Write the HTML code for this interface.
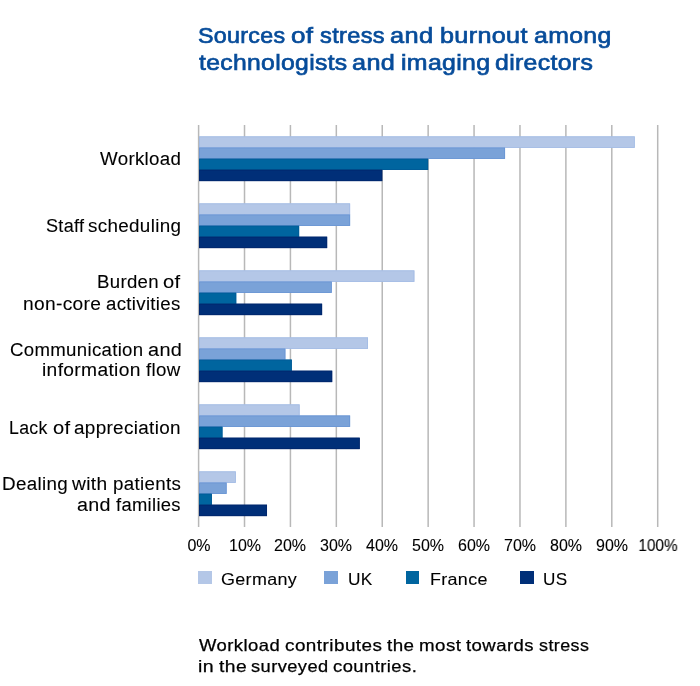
<!DOCTYPE html>
<html><head><meta charset="utf-8"><style>
html,body{margin:0;padding:0;background:#fff;}
body{width:700px;height:686px;position:relative;overflow:hidden;font-family:"Liberation Sans",sans-serif;color:#111;}
.w{position:absolute;white-space:nowrap;will-change:transform;transform-origin:0 0;}
.xl{position:absolute;width:60px;text-align:center;font-size:16px;line-height:16px;will-change:transform;-webkit-text-stroke:0.1px #000;color:#000;}
.sq{position:absolute;width:13.3px;height:13px;}
</style></head><body>
<svg style="position:absolute;left:0;top:0" width="700" height="686" viewBox="0 0 700 686"><rect x="197.85" y="125" width="1.5" height="402" fill="#b8b8b8"/><rect x="243.76" y="125" width="1.5" height="402" fill="#b8b8b8"/><rect x="289.67" y="125" width="1.5" height="402" fill="#b8b8b8"/><rect x="335.58" y="125" width="1.5" height="402" fill="#b8b8b8"/><rect x="381.49" y="125" width="1.5" height="402" fill="#b8b8b8"/><rect x="427.40" y="125" width="1.5" height="402" fill="#b8b8b8"/><rect x="473.31" y="125" width="1.5" height="402" fill="#b8b8b8"/><rect x="519.22" y="125" width="1.5" height="402" fill="#b8b8b8"/><rect x="565.13" y="125" width="1.5" height="402" fill="#b8b8b8"/><rect x="611.04" y="125" width="1.5" height="402" fill="#b8b8b8"/><rect x="656.95" y="125" width="1.5" height="402" fill="#b8b8b8"/><rect x="199.00" y="136.40" width="435.75" height="11.40" fill="#b4c7e7"/><rect x="199.00" y="147.50" width="306.05" height="11.40" fill="#7aa2d8"/><rect x="199.00" y="158.60" width="229.15" height="11.40" fill="#00659f"/><rect x="199.00" y="169.70" width="183.24" height="11.40" fill="#002f78"/><rect x="199.40" y="136.80" width="434.95" height="10.60" fill="none" stroke="#a2bbe5" stroke-width="0.8"/><rect x="199.40" y="147.90" width="305.25" height="10.60" fill="none" stroke="#6994d4" stroke-width="0.8"/><rect x="199.40" y="159.00" width="228.35" height="10.60" fill="none" stroke="#005a96" stroke-width="0.8"/><rect x="199.40" y="170.10" width="182.44" height="10.60" fill="none" stroke="#00266c" stroke-width="0.8"/><rect x="199.00" y="203.40" width="151.10" height="11.40" fill="#b4c7e7"/><rect x="199.00" y="214.50" width="151.10" height="11.40" fill="#7aa2d8"/><rect x="199.00" y="225.60" width="100.14" height="11.40" fill="#00659f"/><rect x="199.00" y="236.70" width="128.15" height="11.40" fill="#002f78"/><rect x="199.40" y="203.80" width="150.30" height="10.60" fill="none" stroke="#a2bbe5" stroke-width="0.8"/><rect x="199.40" y="214.90" width="150.30" height="10.60" fill="none" stroke="#6994d4" stroke-width="0.8"/><rect x="199.40" y="226.00" width="99.34" height="10.60" fill="none" stroke="#005a96" stroke-width="0.8"/><rect x="199.40" y="237.10" width="127.35" height="10.60" fill="none" stroke="#00266c" stroke-width="0.8"/><rect x="199.00" y="270.40" width="215.38" height="11.40" fill="#b4c7e7"/><rect x="199.00" y="281.50" width="132.74" height="11.40" fill="#7aa2d8"/><rect x="199.00" y="292.60" width="37.25" height="11.40" fill="#00659f"/><rect x="199.00" y="303.70" width="123.10" height="11.40" fill="#002f78"/><rect x="199.40" y="270.80" width="214.58" height="10.60" fill="none" stroke="#a2bbe5" stroke-width="0.8"/><rect x="199.40" y="281.90" width="131.94" height="10.60" fill="none" stroke="#6994d4" stroke-width="0.8"/><rect x="199.40" y="293.00" width="36.45" height="10.60" fill="none" stroke="#005a96" stroke-width="0.8"/><rect x="199.40" y="304.10" width="122.30" height="10.60" fill="none" stroke="#00266c" stroke-width="0.8"/><rect x="199.00" y="337.40" width="169.01" height="11.40" fill="#b4c7e7"/><rect x="199.00" y="348.50" width="86.37" height="11.40" fill="#7aa2d8"/><rect x="199.00" y="359.60" width="92.80" height="11.40" fill="#00659f"/><rect x="199.00" y="370.70" width="133.20" height="11.40" fill="#002f78"/><rect x="199.40" y="337.80" width="168.21" height="10.60" fill="none" stroke="#a2bbe5" stroke-width="0.8"/><rect x="199.40" y="348.90" width="85.57" height="10.60" fill="none" stroke="#6994d4" stroke-width="0.8"/><rect x="199.40" y="360.00" width="92.00" height="10.60" fill="none" stroke="#005a96" stroke-width="0.8"/><rect x="199.40" y="371.10" width="132.40" height="10.60" fill="none" stroke="#00266c" stroke-width="0.8"/><rect x="199.00" y="404.40" width="100.60" height="11.40" fill="#b4c7e7"/><rect x="199.00" y="415.50" width="151.10" height="11.40" fill="#7aa2d8"/><rect x="199.00" y="426.60" width="23.47" height="11.40" fill="#00659f"/><rect x="199.00" y="437.70" width="160.74" height="11.40" fill="#002f78"/><rect x="199.40" y="404.80" width="99.80" height="10.60" fill="none" stroke="#a2bbe5" stroke-width="0.8"/><rect x="199.40" y="415.90" width="150.30" height="10.60" fill="none" stroke="#6994d4" stroke-width="0.8"/><rect x="199.40" y="427.00" width="22.67" height="10.60" fill="none" stroke="#005a96" stroke-width="0.8"/><rect x="199.40" y="438.10" width="159.94" height="10.60" fill="none" stroke="#00266c" stroke-width="0.8"/><rect x="199.00" y="471.40" width="36.79" height="11.40" fill="#b4c7e7"/><rect x="199.00" y="482.50" width="27.61" height="11.40" fill="#7aa2d8"/><rect x="199.00" y="493.60" width="12.91" height="11.40" fill="#00659f"/><rect x="199.00" y="504.70" width="68.01" height="11.40" fill="#002f78"/><rect x="199.40" y="471.80" width="35.99" height="10.60" fill="none" stroke="#a2bbe5" stroke-width="0.8"/><rect x="199.40" y="482.90" width="26.81" height="10.60" fill="none" stroke="#6994d4" stroke-width="0.8"/><rect x="199.40" y="494.00" width="12.11" height="10.60" fill="none" stroke="#005a96" stroke-width="0.8"/><rect x="199.40" y="505.10" width="67.21" height="10.60" fill="none" stroke="#00266c" stroke-width="0.8"/></svg>
<div class="w" style="left:198.20px;top:24.75px;font-size:22.5px;line-height:22.5px;letter-spacing:0.3px;transform:scaleX(1.0338);color:#074c9a;-webkit-text-stroke:0.7px #074c9a">Sources</div>
<div class="w" style="left:291.40px;top:24.75px;font-size:22.5px;line-height:22.5px;letter-spacing:0.3px;transform:scaleX(1.1569);color:#074c9a;-webkit-text-stroke:0.7px #074c9a">of</div>
<div class="w" style="left:320.40px;top:24.75px;font-size:22.5px;line-height:22.5px;letter-spacing:0.3px;transform:scaleX(1.0501);color:#074c9a;-webkit-text-stroke:0.7px #074c9a">stress</div>
<div class="w" style="left:390.20px;top:24.75px;font-size:22.5px;line-height:22.5px;letter-spacing:0.3px;transform:scaleX(1.1278);color:#074c9a;-webkit-text-stroke:0.7px #074c9a">and</div>
<div class="w" style="left:440.40px;top:24.75px;font-size:22.5px;line-height:22.5px;letter-spacing:0.3px;transform:scaleX(1.1195);color:#074c9a;-webkit-text-stroke:0.7px #074c9a">burnout</div>
<div class="w" style="left:533.60px;top:24.75px;font-size:22.5px;line-height:22.5px;letter-spacing:0.3px;transform:scaleX(1.1030);color:#074c9a;-webkit-text-stroke:0.7px #074c9a">among</div>
<div class="w" style="left:198.80px;top:52.05px;font-size:22.5px;line-height:22.5px;letter-spacing:0.3px;transform:scaleX(1.0985);color:#074c9a;-webkit-text-stroke:0.7px #074c9a">technologists</div>
<div class="w" style="left:352.40px;top:52.05px;font-size:22.5px;line-height:22.5px;letter-spacing:0.3px;transform:scaleX(1.1225);color:#074c9a;-webkit-text-stroke:0.7px #074c9a">and</div>
<div class="w" style="left:400.60px;top:52.05px;font-size:22.5px;line-height:22.5px;letter-spacing:0.3px;transform:scaleX(1.1052);color:#074c9a;-webkit-text-stroke:0.7px #074c9a">imaging</div>
<div class="w" style="left:495.40px;top:52.05px;font-size:22.5px;line-height:22.5px;letter-spacing:0.3px;transform:scaleX(1.1035);color:#074c9a;-webkit-text-stroke:0.7px #074c9a">directors</div>
<div class="w" style="left:198.80px;top:636.93px;font-size:16.5px;line-height:16.5px;letter-spacing:0.4px;transform:scaleX(1.1184);color:#000;-webkit-text-stroke:0.25px #000">Workload</div>
<div class="w" style="left:284.60px;top:636.93px;font-size:16.5px;line-height:16.5px;letter-spacing:0.4px;transform:scaleX(1.1446);color:#000;-webkit-text-stroke:0.25px #000">contributes</div>
<div class="w" style="left:387.40px;top:636.93px;font-size:16.5px;line-height:16.5px;letter-spacing:0.4px;transform:scaleX(1.1397);color:#000;-webkit-text-stroke:0.25px #000">the</div>
<div class="w" style="left:419.00px;top:636.93px;font-size:16.5px;line-height:16.5px;letter-spacing:0.4px;transform:scaleX(1.1336);color:#000;-webkit-text-stroke:0.25px #000">most</div>
<div class="w" style="left:466.40px;top:636.93px;font-size:16.5px;line-height:16.5px;letter-spacing:0.4px;transform:scaleX(1.1234);color:#000;-webkit-text-stroke:0.25px #000">towards</div>
<div class="w" style="left:539.00px;top:636.93px;font-size:16.5px;line-height:16.5px;letter-spacing:0.4px;transform:scaleX(1.0846);color:#000;-webkit-text-stroke:0.25px #000">stress</div>
<div class="w" style="left:198.00px;top:658.43px;font-size:16.5px;line-height:16.5px;letter-spacing:0.4px;transform:scaleX(1.1851);color:#000;-webkit-text-stroke:0.25px #000">in</div>
<div class="w" style="left:218.80px;top:658.43px;font-size:16.5px;line-height:16.5px;letter-spacing:0.4px;transform:scaleX(1.1658);color:#000;-webkit-text-stroke:0.25px #000">the</div>
<div class="w" style="left:251.20px;top:658.43px;font-size:16.5px;line-height:16.5px;letter-spacing:0.4px;transform:scaleX(1.1060);color:#000;-webkit-text-stroke:0.25px #000">surveyed</div>
<div class="w" style="left:332.80px;top:658.43px;font-size:16.5px;line-height:16.5px;letter-spacing:0.4px;transform:scaleX(1.1151);color:#000;-webkit-text-stroke:0.25px #000">countries.</div>
<div class="w" style="left:99.80px;top:150.60px;font-size:17.6px;line-height:17.6px;letter-spacing:0.3px;transform:scaleX(1.0641);color:#000;-webkit-text-stroke:0.1px #000">Workload</div>
<div class="w" style="left:46.40px;top:217.70px;font-size:17.6px;line-height:17.6px;letter-spacing:0.3px;transform:scaleX(1.0278);color:#000;-webkit-text-stroke:0.1px #000">Staff</div>
<div class="w" style="left:88.40px;top:217.70px;font-size:17.6px;line-height:17.6px;letter-spacing:0.3px;transform:scaleX(1.0707);color:#000;-webkit-text-stroke:0.1px #000">scheduling</div>
<div class="w" style="left:96.80px;top:274.00px;font-size:17.6px;line-height:17.6px;letter-spacing:0.3px;transform:scaleX(1.0572);color:#000;-webkit-text-stroke:0.1px #000">Burden</div>
<div class="w" style="left:163.00px;top:274.00px;font-size:17.6px;line-height:17.6px;letter-spacing:0.3px;transform:scaleX(1.1450);color:#000;-webkit-text-stroke:0.1px #000">of</div>
<div class="w" style="left:23.40px;top:295.60px;font-size:17.6px;line-height:17.6px;letter-spacing:0.3px;transform:scaleX(1.0886);color:#000;-webkit-text-stroke:0.1px #000">non-core</div>
<div class="w" style="left:106.40px;top:295.60px;font-size:17.6px;line-height:17.6px;letter-spacing:0.3px;transform:scaleX(1.0589);color:#000;-webkit-text-stroke:0.1px #000">activities</div>
<div class="w" style="left:10.40px;top:341.50px;font-size:17.6px;line-height:17.6px;letter-spacing:0.3px;transform:scaleX(1.0581);color:#000;-webkit-text-stroke:0.1px #000">Communication</div>
<div class="w" style="left:147.80px;top:341.50px;font-size:17.6px;line-height:17.6px;letter-spacing:0.3px;transform:scaleX(1.1294);color:#000;-webkit-text-stroke:0.1px #000">and</div>
<div class="w" style="left:42.40px;top:362.30px;font-size:17.6px;line-height:17.6px;letter-spacing:0.3px;transform:scaleX(1.0932);color:#000;-webkit-text-stroke:0.1px #000">information</div>
<div class="w" style="left:146.00px;top:362.30px;font-size:17.6px;line-height:17.6px;letter-spacing:0.3px;transform:scaleX(1.0625);color:#000;-webkit-text-stroke:0.1px #000">flow</div>
<div class="w" style="left:9.00px;top:419.50px;font-size:17.6px;line-height:17.6px;letter-spacing:0.3px;transform:scaleX(1.0056);color:#000;-webkit-text-stroke:0.1px #000">Lack</div>
<div class="w" style="left:52.80px;top:419.50px;font-size:17.6px;line-height:17.6px;letter-spacing:0.3px;transform:scaleX(1.1429);color:#000;-webkit-text-stroke:0.1px #000">of</div>
<div class="w" style="left:74.20px;top:419.50px;font-size:17.6px;line-height:17.6px;letter-spacing:0.3px;transform:scaleX(1.0743);color:#000;-webkit-text-stroke:0.1px #000">appreciation</div>
<div class="w" style="left:2.40px;top:476.20px;font-size:17.6px;line-height:17.6px;letter-spacing:0.3px;transform:scaleX(1.0678);color:#000;-webkit-text-stroke:0.1px #000">Dealing</div>
<div class="w" style="left:72.40px;top:476.20px;font-size:17.6px;line-height:17.6px;letter-spacing:0.3px;transform:scaleX(1.0907);color:#000;-webkit-text-stroke:0.1px #000">with</div>
<div class="w" style="left:113.00px;top:476.20px;font-size:17.6px;line-height:17.6px;letter-spacing:0.3px;transform:scaleX(1.0645);color:#000;-webkit-text-stroke:0.1px #000">patients</div>
<div class="w" style="left:77.40px;top:497.20px;font-size:17.6px;line-height:17.6px;letter-spacing:0.3px;transform:scaleX(1.1215);color:#000;-webkit-text-stroke:0.1px #000">and</div>
<div class="w" style="left:115.80px;top:497.20px;font-size:17.6px;line-height:17.6px;letter-spacing:0.3px;transform:scaleX(1.0460);color:#000;-webkit-text-stroke:0.1px #000">families</div>
<div class="w" style="left:220.60px;top:570.63px;font-size:16.5px;line-height:16.5px;letter-spacing:0.3px;transform:scaleX(1.0870);color:#000;-webkit-text-stroke:0.1px #000">Germany</div>
<div class="w" style="left:348.00px;top:570.63px;font-size:16.5px;line-height:16.5px;letter-spacing:0.3px;transform:scaleX(1.0465);color:#000;-webkit-text-stroke:0.1px #000">UK</div>
<div class="w" style="left:429.80px;top:570.63px;font-size:16.5px;line-height:16.5px;letter-spacing:0.3px;transform:scaleX(1.0863);color:#000;-webkit-text-stroke:0.1px #000">France</div>
<div class="w" style="left:543.40px;top:570.63px;font-size:16.5px;line-height:16.5px;letter-spacing:0.3px;transform:scaleX(1.0369);color:#000;-webkit-text-stroke:0.1px #000">US</div>
<div class="xl" style="left:168.60px;top:537.56px">0%</div>
<div class="xl" style="left:214.51px;top:537.56px">10%</div>
<div class="xl" style="left:260.42px;top:537.56px">20%</div>
<div class="xl" style="left:306.33px;top:537.56px">30%</div>
<div class="xl" style="left:352.24px;top:537.56px">40%</div>
<div class="xl" style="left:398.15px;top:537.56px">50%</div>
<div class="xl" style="left:444.06px;top:537.56px">60%</div>
<div class="xl" style="left:489.97px;top:537.56px">70%</div>
<div class="xl" style="left:535.88px;top:537.56px">80%</div>
<div class="xl" style="left:581.79px;top:537.56px">90%</div>
<div class="xl" style="left:627.70px;top:537.56px;transform:scaleX(0.96)">100%</div>
<div class="sq" style="left:198.4px;top:571.4px;background:#b4c7e7"></div>
<div class="sq" style="left:324.4px;top:571.4px;background:#7aa2d8"></div>
<div class="sq" style="left:405.5px;top:571.4px;background:#00659f"></div>
<div class="sq" style="left:520.4px;top:571.4px;background:#002f78"></div>
</body></html>
